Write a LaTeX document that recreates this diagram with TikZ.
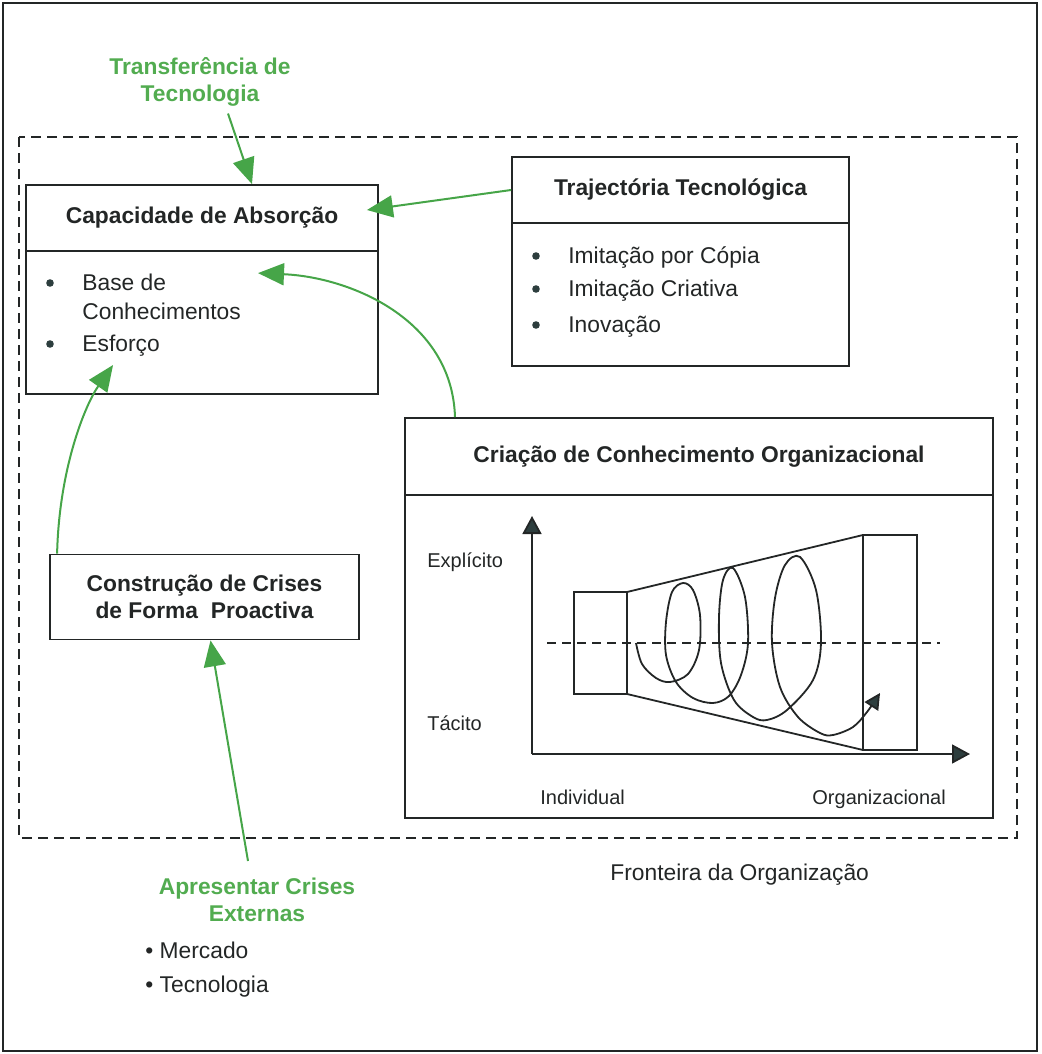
\documentclass[tikz,border=0pt]{standalone}
\usepackage{fontspec}
\setmainfont{Liberation Sans}
\usetikzlibrary{arrows.meta}
\definecolor{arrowgreen}{RGB}{70,165,72}
\definecolor{labelgreen}{RGB}{82,172,80}
\definecolor{inkgray}{RGB}{35,38,38}
\definecolor{tipgray}{RGB}{45,62,62}
\newcommand{\panelnode}[5]{%
  \node[panel,minimum width=#3*0.5pt,minimum height=#4*0.5pt] (#1) at (#2) {#5};
}
\newcommand{\bulletnode}[4]{%
  \fill[tipgray] (#2,#3) circle (1.9pt);
  \node[item] (#1) at (#2+32,#3+2) {#4};
}

\begin{document}
\begin{tikzpicture}[x=0.5pt,y=-0.5pt,
  font=\fontsize{11.4}{13.2}\selectfont,
  panel/.style={draw=inkgray,line width=0.9pt,inner sep=0pt,text=inkgray,
    font=\fontsize{11.4}{13.2}\selectfont\bfseries,align=center},
  item/.style={anchor=west,inner sep=0pt,text=inkgray,text height=8.2pt,text depth=2.4pt},
  axislabel/.style={item,font=\fontsize{10}{12}\selectfont},
  greenlabel/.style={inner sep=0pt,text=labelgreen,align=center,
    font=\fontsize{11.4}{13.2}\selectfont\bfseries},
  garrow/.style={draw=arrowgreen,line width=1pt,-{Triangle[length=13pt,width=11pt]}},
  axis/.style={draw=inkgray,line width=0.9pt,-{Triangle[length=9pt,width=9.5pt,fill=tipgray]}},
  outline/.style={draw=inkgray,line width=0.9pt}]
  \useasboundingbox (0,0) rectangle (1042,1054);
  \draw[draw=inkgray,line width=0.7pt] (3,3) rectangle (1037,1051);
  \draw[outline,dash pattern=on 5pt off 3pt] (19,137) rectangle (1017,838);

  \node[greenlabel] (transf) at (200,82) {Transferência de\\Tecnologia};

  \panelnode{captitle}{202,218}{352}{66}{Capacidade de Absorção}
  \panelnode{capbody}{202,322.5}{352}{143}{}
  \bulletnode{base}{50}{283}{Base de}
  \node[item] (conhec) at (82,314) {Conhecimentos};
  \bulletnode{esforco}{50}{344}{Esforço}

  \panelnode{trajtitle}{680.5,190}{337}{66}{Trajectória Tecnológica}
  \panelnode{trajbody}{680.5,294.5}{337}{143}{}
  \bulletnode{copia}{536}{256}{Imitação por Cópia}
  \bulletnode{criativa}{536}{289}{Imitação Criativa}
  \bulletnode{inovacao}{536}{325}{Inovação}

  \panelnode{crititle}{699,456.5}{588}{77}{Criação de Conhecimento Organizacional}
  \panelnode{cribody}{699,656.5}{588}{323}{}

  \panelnode{construcao}{204.5,597}{309}{85}{Construção de Crises\\de Forma~ Proactiva}

  \node[greenlabel] (crises) at (257,900) {Apresentar Crises\\Externas};
  \node[item] (mercado) at (145,953) {\textbullet\ Mercado};
  \node[item] (tecnologia) at (145,987) {\textbullet\ Tecnologia};
  \node[item] (fronteira) at (610,875) {Fronteira da Organização};

  \node[axislabel] (explicito) at (427,562) {Explícito};
  \node[axislabel] (tacito) at (427,725) {Tácito};
  \node[axislabel] (individual) at (540,799) {Individual};
  \node[axislabel] (organizacional) at (812,799) {Organizacional};

  \coordinate (origin) at (532,754);
  \draw[axis] (origin) -- (532,516);
  \draw[axis] (origin) -- (970,754);
  \draw[outline] (574,592) rectangle (627,694);
  \draw[outline] (627,592) -- (863,535);
  \draw[outline] (627,694) -- (863,750);
  \draw[outline] (863,535) rectangle (917,750);
  \draw[inkgray,line width=0.8pt,dash pattern=on 4.5pt off 3pt] (547,643) -- (940,643);
  \draw[outline,-{Triangle[length=8pt,width=8pt,fill=tipgray]}] plot[smooth,tension=0.55] coordinates {
    (636,643) (642,664) (656,678) (670,682) (688,674) (699,650) (700,615) (693,590) (683,583)
    (672,592) (666,622) (666,655) (676,682) (693,698) (713,703) (729,696) (741,675) (748,643)
    (745,597) (733,568) (723,580) (719,617) (721,663) (734,700) (753,717) (767,720) (787,710)
    (813,680) (821,643) (816,590) (800,557) (785,565) (775,598) (772,643) (780,687) (798,717)
    (820,733) (833,735) (853,727) (867,712) (880,693)};

  \draw[garrow] ([xshift=14pt,yshift=-3.5pt]transf.south) -- ([xshift=25pt]captitle.north);
  \draw[garrow] (trajtitle.west) -- ([xshift=-6pt,yshift=4pt]captitle.east);
  \draw[garrow] ([xshift=-122pt]crititle.north) .. controls +(-3,-98) and +(92,4) .. ([xshift=28pt,yshift=-11.5pt]capbody.north);
  \draw[garrow] ([xshift=4pt]construcao.north west) .. controls +(2,-85) and +(-28,40) .. ([xshift=-4pt,yshift=-4pt]esforco.south);
  \draw[garrow] ([xshift=-4.5pt,yshift=8.5pt]crises.north) -- ([xshift=3pt]construcao.south);
\end{tikzpicture}
\end{document}
